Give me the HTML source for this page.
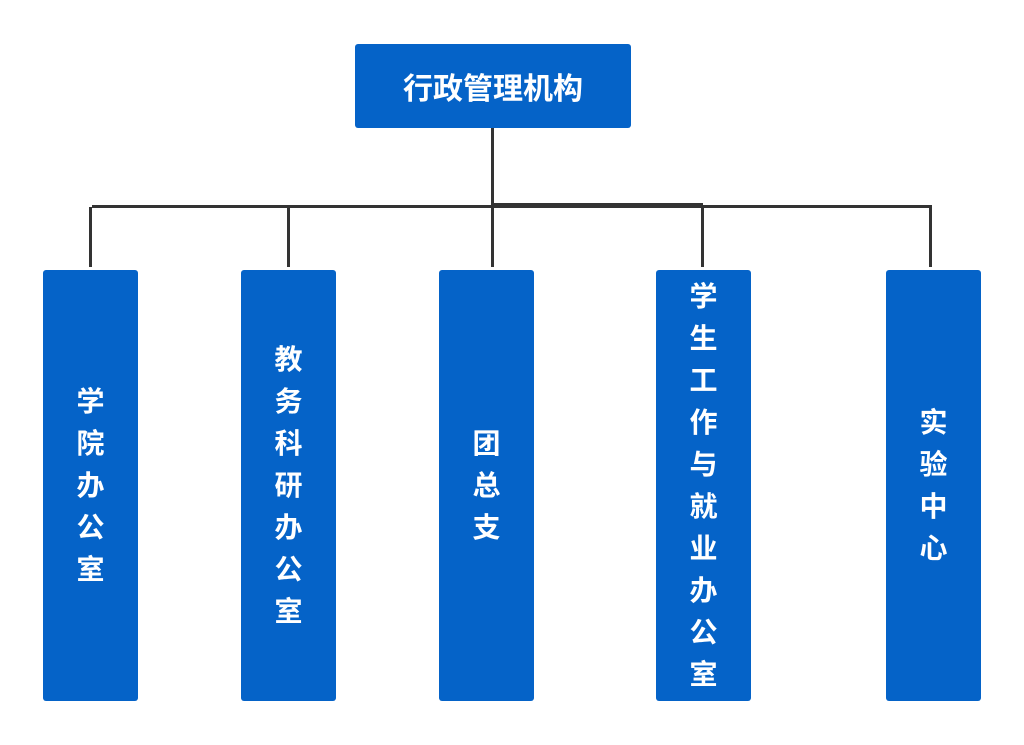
<!DOCTYPE html>
<html><head><meta charset="utf-8"><style>
body{margin:0;width:1024px;height:745px;background:#fff;position:relative;overflow:hidden;font-family:"Liberation Sans","Noto Sans CJK SC",sans-serif}
.b{position:absolute;background:#0563c8;color:#fff;font-weight:bold;border-radius:3px}
.v{top:270px;height:431px;width:95px;display:flex;flex-direction:column;justify-content:center;align-items:center;font-size:28px;line-height:42px}
.l{position:absolute;background:#333}
</style></head><body>
<div class="b" style="left:355px;top:44px;width:276px;height:84px;display:flex;align-items:center;justify-content:center;font-size:30px">行政管理机构</div>
<div class="l" style="left:491px;top:128px;width:3px;height:78px"></div>
<div class="l" style="left:92px;top:205px;width:840px;height:3px"></div>
<div class="l" style="left:492px;top:203px;width:211px;height:3px"></div>
<div class="l" style="left:89px;top:207px;width:3px;height:60px"></div>
<div class="l" style="left:287px;top:207px;width:3px;height:60px"></div>
<div class="l" style="left:491px;top:207px;width:3px;height:60px"></div>
<div class="l" style="left:701px;top:207px;width:3px;height:60px"></div>
<div class="l" style="left:929px;top:207px;width:3px;height:60px"></div>
<div class="b v" style="left:43px"><span>学</span><span>院</span><span>办</span><span>公</span><span>室</span></div>
<div class="b v" style="left:241px"><span>教</span><span>务</span><span>科</span><span>研</span><span>办</span><span>公</span><span>室</span></div>
<div class="b v" style="left:439px"><span>团</span><span>总</span><span>支</span></div>
<div class="b v" style="left:656px"><span>学</span><span>生</span><span>工</span><span>作</span><span>与</span><span>就</span><span>业</span><span>办</span><span>公</span><span>室</span></div>
<div class="b v" style="left:886px"><span>实</span><span>验</span><span>中</span><span>心</span></div>
</body></html>
